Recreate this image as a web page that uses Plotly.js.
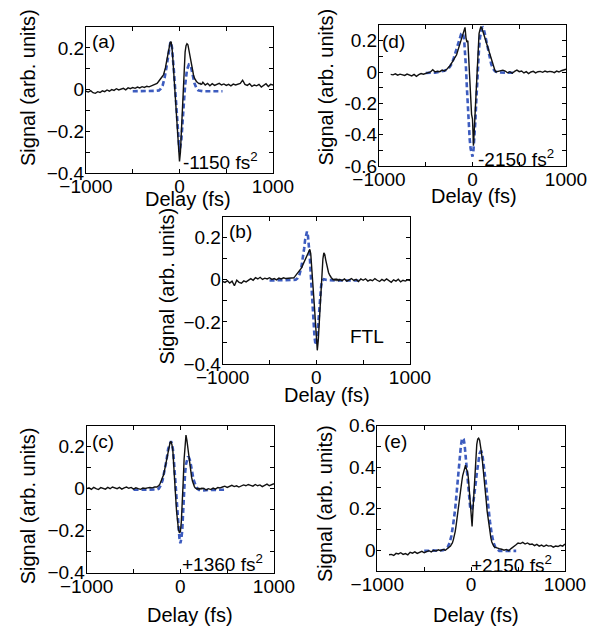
<!DOCTYPE html>
<html><head><meta charset="utf-8">
<script src="https://cdn.plot.ly/plotly-3.0.1.min.js"></script>
<style>html,body{margin:0;padding:0;background:#fff}#chart{width:601px;height:628px}</style>
</head><body><div id="chart"></div>
<script>
// Shared delay sampling grids (fs)
const delayFull = [-1000,-975,-950,-925,-900,-875,-850,-825,-800,-775,-750,-725,-700,-675,-650,-625,-600,-575,-550,-525,-500,-475,-450,-425,-400,-375,-350,-325,-300,-275,-250,
 -240,-230,-220,-210,-200,-190,-180,-170,-160,-150,-140,-130,-120,-110,-100,-90,-80,-70,-60,-50,-40,-30,-20,-10,0,10,20,30,40,50,60,70,80,90,100,110,120,130,140,150,160,170,180,190,200,210,220,230,240,
 250,275,300,325,350,375,400,425,450,475,500,525,550,575,600,625,650,675,700,725,750,775,800,825,850,875,900,925,950,975,1000];
const delayShort = [-875,-850,-825,-800,-775,-750,-725,-700,-675,-650,-625,-600,-575,-550,-525,-500,-475,-450,-425,-400,-375,-350,-325,-300,-275,-250,
 -240,-230,-220,-210,-200,-190,-180,-170,-160,-150,-140,-130,-120,-110,-100,-90,-80,-70,-60,-50,-40,-30,-20,-10,0,10,20,30,40,50,60,70,80,90,100,110,120,130,140,150,160,170,180,190,200,210,220,230,240,
 250,275,300,325,350,375,400,425,450,475,500,525,550,575,600,625,650,675,700,725,750,775,800,825,850,875,900,925,950,975,1000];

// (a) -1150 fs^2
const measA = [-0.008,-0.012,-0.005,-0.015,-0.018,-0.010,-0.014,-0.006,-0.010,-0.002,-0.008,0.000,-0.004,0.004,-0.002,0.003,0.006,-0.001,0.008,0.004,0.010,0.006,0.012,0.008,0.014,0.010,0.016,0.013,0.018,0.022,0.025,
 0.03,0.035,0.04,0.045,0.05,0.058,0.065,0.072,0.085,0.105,0.13,0.155,0.185,0.21,0.225,0.23,0.20,0.14,0.07,0.0,-0.07,-0.14,-0.21,-0.28,-0.345,-0.30,-0.20,-0.08,0.03,0.12,0.18,0.21,0.22,0.215,0.19,0.16,0.13,0.105,0.085,0.07,0.055,0.045,0.04,0.035,0.032,0.028,0.03,0.025,0.027,
 0.035,0.022,0.030,0.018,0.028,0.020,0.025,0.030,0.022,0.027,0.020,0.025,0.018,0.026,0.022,0.028,0.030,0.045,0.025,0.020,0.028,0.015,0.022,0.018,0.025,0.012,0.020,0.028,0.015,0.025,0.022];
const modelDelayA = [-500,-400,-300,-250,-220,-200,-180,-160,-140,-120,-100,-90,-80,-60,-40,-20,0,20,40,60,80,100,120,140,160,180,200,250,300,400,460];
const modelA = [-0.008,-0.008,-0.007,-0.006,-0.004,0.004,0.02,0.055,0.105,0.165,0.22,0.23,0.2,0.09,-0.03,-0.17,-0.30,-0.24,-0.11,0.02,0.095,0.12,0.115,0.075,0.03,0.008,-0.004,-0.008,-0.008,-0.008,-0.008];

// (b) FTL
const measB = [-0.008,-0.012,-0.004,-0.015,-0.006,-0.028,-0.002,-0.012,-0.016,-0.005,-0.010,-0.003,0.006,-0.002,0.010,0.004,0.012,0.002,0.008,0.004,0.010,0.002,0.006,0.000,0.008,0.004,0.010,0.006,0.008,0.010,0.012,
 0.01,0.015,0.02,0.028,0.035,0.04,0.045,0.05,0.055,0.065,0.075,0.085,0.095,0.11,0.12,0.13,0.14,0.145,0.125,0.07,0.0,-0.06,-0.13,-0.20,-0.26,-0.335,-0.29,-0.21,-0.126,-0.03,0.05,0.10,0.128,0.12,0.095,0.07,0.05,0.035,0.025,0.015,0.01,0.005,0.0,0.003,-0.002,0.004,-0.003,0.002,-0.004,
 0.002,-0.004,0.004,-0.006,0.0,0.006,-0.003,0.002,-0.008,0.004,-0.002,0.005,-0.006,0.0,-0.004,0.006,-0.002,-0.008,0.002,-0.005,0.004,-0.003,-0.012,0.0,-0.006,0.003,-0.01,-0.002,-0.006,0.0,-0.004];
const modelDelayB = [-500,-400,-300,-250,-220,-200,-180,-160,-140,-130,-120,-110,-100,-90,-80,-70,-60,-50,-40,-30,-20,-10,0,10,20,30,40,50,60,80,100,150,200,300,400,450];
const modelB = [-0.003,-0.003,-0.003,-0.002,0.0,0.008,0.025,0.06,0.11,0.15,0.19,0.215,0.23,0.21,0.17,0.11,0.03,-0.05,-0.14,-0.21,-0.27,-0.305,-0.31,-0.27,-0.2,-0.14,-0.08,-0.035,-0.005,0.003,0.0,-0.003,-0.003,-0.003,-0.003,-0.003];

// (c) +1360 fs^2
const measC = [0.0,0.004,-0.003,0.006,0.0,-0.004,0.005,0.002,-0.002,0.006,0.0,0.008,0.003,0.0,0.006,-0.002,0.004,0.008,0.002,0.006,-0.002,0.004,0.0,-0.003,0.003,0.001,0.004,0.006,0.004,0.008,0.008,
 0.01,0.015,0.02,0.03,0.04,0.05,0.065,0.085,0.11,0.14,0.165,0.19,0.21,0.22,0.225,0.21,0.18,0.12,0.04,-0.04,-0.11,-0.16,-0.195,-0.21,-0.205,-0.16,-0.09,0.03,0.14,0.22,0.255,0.23,0.19,0.15,0.11,0.08,0.055,0.035,0.02,0.01,0.003,0.0,-0.002,0.002,-0.003,0.001,-0.002,0.003,0.0,
 0.002,-0.006,0.0,-0.004,0.003,-0.002,0.006,0.004,0.008,0.012,0.006,0.010,0.016,0.010,0.014,0.008,0.012,0.018,0.014,0.020,0.016,0.012,0.020,0.014,0.018,0.010,0.016,0.022,0.014,0.020,0.024];
const modelDelayC = [-500,-400,-300,-250,-230,-210,-190,-170,-150,-130,-110,-100,-90,-80,-70,-60,-50,-40,-30,-20,-10,0,10,20,30,40,50,60,70,80,90,100,110,120,140,160,180,200,250,300,400,470];
const modelC = [-0.005,-0.005,-0.005,-0.004,0.0,0.015,0.04,0.08,0.13,0.19,0.222,0.226,0.215,0.19,0.14,0.07,0.0,-0.08,-0.14,-0.19,-0.235,-0.26,-0.24,-0.2,-0.1,0.0,0.07,0.115,0.14,0.15,0.15,0.14,0.12,0.095,0.045,0.02,0.0,-0.006,-0.008,-0.006,-0.005,-0.005];

// (d) -2150 fs^2
const measD = [-0.015,-0.018,-0.012,-0.02,-0.014,-0.016,-0.022,-0.013,-0.018,-0.025,-0.015,-0.028,-0.017,-0.01,-0.014,-0.008,-0.005,0.0,0.015,0.0,0.005,0.002,0.012,0.006,0.018,0.03,
 0.04,0.05,0.06,0.07,0.075,0.085,0.095,0.11,0.13,0.15,0.165,0.18,0.205,0.235,0.255,0.275,0.285,0.22,0.19,0.2,0.06,-0.095,-0.19,-0.27,-0.30,-0.47,-0.36,-0.24,-0.07,0.08,0.18,0.245,0.27,0.29,0.28,0.26,0.24,0.22,0.195,0.175,0.155,0.14,0.125,0.11,0.09,0.07,0.045,0.025,0.01,
 0.0,0.005,0.008,0.012,0.006,-0.005,0.002,-0.008,0.004,0.012,0.002,0.006,-0.006,0.002,-0.01,0.0,0.004,-0.006,0.002,0.004,-0.002,0.006,0.0,0.004,0.002,-0.004,0.006,0.0,0.008,0.012,0.018];
const modelDelayD = [-500,-400,-300,-260,-240,-220,-200,-180,-160,-140,-120,-110,-100,-90,-80,-70,-60,-50,-40,-30,-20,-10,0,10,20,30,40,50,60,70,80,90,100,110,120,130,140,160,180,200,220,240,260,300,400,460];
const modelD = [-0.006,-0.004,0.008,0.02,0.035,0.055,0.09,0.13,0.18,0.22,0.245,0.25,0.24,0.21,0.14,0.03,-0.1,-0.23,-0.35,-0.43,-0.49,-0.525,-0.54,-0.5,-0.42,-0.32,-0.19,-0.06,0.06,0.15,0.22,0.26,0.28,0.285,0.275,0.25,0.22,0.16,0.1,0.05,0.02,0.005,0.0,-0.003,-0.005,-0.005];

// (e) +2150 fs^2
const measE = [-0.022,-0.02,-0.025,-0.015,-0.018,-0.012,-0.02,-0.016,-0.022,-0.01,-0.014,-0.008,-0.015,-0.01,-0.005,-0.012,-0.006,-0.002,-0.008,0.0,-0.004,0.002,-0.002,0.004,0.0,0.008,
 0.01,0.015,0.02,0.028,0.035,0.05,0.065,0.09,0.12,0.16,0.19,0.22,0.26,0.30,0.33,0.36,0.38,0.40,0.41,0.39,0.38,0.35,0.29,0.22,0.16,0.115,0.2,0.28,0.38,0.46,0.51,0.535,0.54,0.53,0.505,0.47,0.43,0.39,0.34,0.29,0.24,0.19,0.15,0.11,0.08,0.06,0.04,0.028,0.02,
 0.015,0.01,0.008,0.005,0.0,0.004,-0.002,0.008,0.015,0.025,0.035,0.032,0.038,0.03,0.035,0.028,0.03,0.022,0.028,0.02,0.025,0.018,0.025,0.02,0.022,0.015,0.02,0.018,0.024,0.02,0.03];
const modelDelayE = [-500,-400,-300,-270,-250,-230,-210,-190,-170,-150,-130,-110,-100,-90,-80,-70,-60,-50,-40,-30,-20,-10,0,10,20,30,40,50,60,70,80,90,100,110,120,130,140,150,160,170,180,190,200,220,240,260,280,300,400,480];
const modelE = [-0.003,-0.003,0.0,0.006,0.015,0.035,0.07,0.13,0.2,0.3,0.41,0.5,0.53,0.54,0.535,0.51,0.46,0.4,0.34,0.28,0.235,0.205,0.195,0.2,0.22,0.25,0.29,0.33,0.37,0.41,0.44,0.465,0.475,0.475,0.46,0.43,0.39,0.35,0.31,0.26,0.22,0.18,0.14,0.075,0.035,0.012,0.002,-0.003,-0.003,-0.003];

const panelLabels = ['(a)','(b)','(c)','(d)','(e)'];
const chirpLabels = ['-1150 fs<sup>2</sup>','FTL','+1360 fs<sup>2</sup>','-2150 fs<sup>2</sup>','+2150 fs<sup>2</sup>'];
const xTickVals = [-1000,0,1000];
const xTickText = ['\u22121000','0','1000'];
const xMinorVals = [-500,500];
const xTitle = 'Delay (fs)';
const yTitle = 'Signal (arb. units)';

const FONT = 'Liberation Sans, Arial, Helvetica, sans-serif';
const W = 601, H = 628;
// pixel boxes [left, right, top, bottom]
const boxes = [[86,273,27,173],[222.7,410,216.7,364],[86.7,274,425.7,572.7],[379,566,25,166],[377.3,565,425.7,571]];
const yRanges = [[-0.4,0.3],[-0.4,0.3],[-0.4,0.3],[-0.6,0.3],[-0.1,0.6]];
const yTicks = [
 {v:[-0.4,-0.2,0,0.2], t:['\u22120.4','\u22120.2','0','0.2'], m:[-0.3,-0.1,0.1]},
 {v:[-0.4,-0.2,0,0.2], t:['\u22120.4','\u22120.2','0','0.2'], m:[-0.3,-0.1,0.1]},
 {v:[-0.4,-0.2,0,0.2], t:['\u22120.4','\u22120.2','0','0.2'], m:[-0.3,-0.1,0.1]},
 {v:[-0.6,-0.4,-0.2,0,0.2], t:['-0.6','-0.4','-0.2','0','0.2'], m:[-0.5,-0.3,-0.1,0.1]},
 {v:[0,0.2,0.4,0.6], t:['0','0.2','0.4','0.6'], m:[0.1,0.3,0.5]}
];
const meas = [[delayFull,measA],[delayFull,measB],[delayFull,measC],[delayShort,measD],[delayShort,measE]];
const models = [[modelDelayA,modelA],[modelDelayB,modelB],[modelDelayC,modelC],[modelDelayD,modelD],[modelDelayE,modelE]];
// label positions in axis-domain fractions
const labelPos = [[0.02,0.90],[0.024,0.898],[0.02,0.891],[0.008,0.88],[0.026,0.89]];
const chirpPos = [[0.721,0.085],[0.769,0.185],[0.725,0.064],[0.731,0.057],[0.716,0.045]];
// axis title centres in px
const xTitlePx = [[187.7,199],[326.7,395],[190,615],[474,196],[475.8,615]];
const yTitlePx = [[27.5,87.5],[166.7,285.8],[27.5,505.8],[325,87.5],[325,504]];

const data = [], layout = {
  width: W, height: H, margin:{l:0,r:0,t:0,b:0}, showlegend:false,
  paper_bgcolor:'#fff', plot_bgcolor:'#fff', font:{family:FONT, size:19, color:'#000'},
  annotations: []
};
for (let i=0;i<5;i++){
  const s = i===0 ? '' : String(i+1);
  const xa = 'x'+s, ya = 'y'+s;
  const b = boxes[i];
  data.push({x:models[i][0], y:models[i][1], xaxis:xa, yaxis:ya, type:'scatter', mode:'lines',
    line:{color:'#3d5cbf', width:2.6, dash:'5px,3px'}, hoverinfo:'skip'});
  data.push({x:meas[i][0], y:meas[i][1], xaxis:xa, yaxis:ya, type:'scatter', mode:'lines',
    line:{color:'#111', width:1.4}, hoverinfo:'skip'});
  const common = {showline:true, mirror:'ticks', linecolor:'#000', linewidth:1, ticks:'inside', ticklen:4,
    tickcolor:'#000', tickwidth:1, showgrid:false, zeroline:false, tickfont:{family:FONT,size:19,color:'#000'}, fixedrange:true};
  layout['xaxis'+s] = Object.assign({}, common, {domain:[b[0]/W, b[1]/W], range:[-1000,1000], anchor:ya,
    tickmode:'array', tickvals:xTickVals, ticktext:xTickText, ticklabelstandoff:-4,
    minor:{tickmode:'array', tickvals:xMinorVals, ticks:'inside', ticklen:4, tickcolor:'#000', tickwidth:1, showgrid:false}});
  layout['yaxis'+s] = Object.assign({}, common, {domain:[1-b[3]/H, 1-b[2]/H], range:yRanges[i], anchor:xa,
    tickmode:'array', tickvals:yTicks[i].v, ticktext:yTicks[i].t, ticklabelstandoff:-3,
    minor:{tickmode:'array', tickvals:yTicks[i].m, ticks:'inside', ticklen:4, tickcolor:'#000', tickwidth:1, showgrid:false}});
  layout.annotations.push({text:panelLabels[i], xref:xa+' domain', yref:ya+' domain', x:labelPos[i][0], y:labelPos[i][1],
    xanchor:'left', yanchor:'middle', showarrow:false, font:{family:FONT,size:19,color:'#000'}});
  layout.annotations.push({text:chirpLabels[i], xref:xa+' domain', yref:ya+' domain', x:chirpPos[i][0], y:chirpPos[i][1],
    xanchor:'center', yanchor:'middle', showarrow:false, font:{family:FONT,size:19,color:'#000'}});
  layout.annotations.push({text:xTitle, xref:'paper', yref:'paper', x:xTitlePx[i][0]/W, y:1-xTitlePx[i][1]/H,
    xanchor:'center', yanchor:'middle', showarrow:false, font:{family:FONT,size:20,color:'#000'}});
  layout.annotations.push({text:yTitle, xref:'paper', yref:'paper', x:yTitlePx[i][0]/W, y:1-yTitlePx[i][1]/H,
    xanchor:'center', yanchor:'middle', textangle:-90, showarrow:false, font:{family:FONT,size:20,color:'#000'}});
}
Plotly.newPlot('chart', data, layout, {staticPlot:true, displayModeBar:false});
</script></body></html>
